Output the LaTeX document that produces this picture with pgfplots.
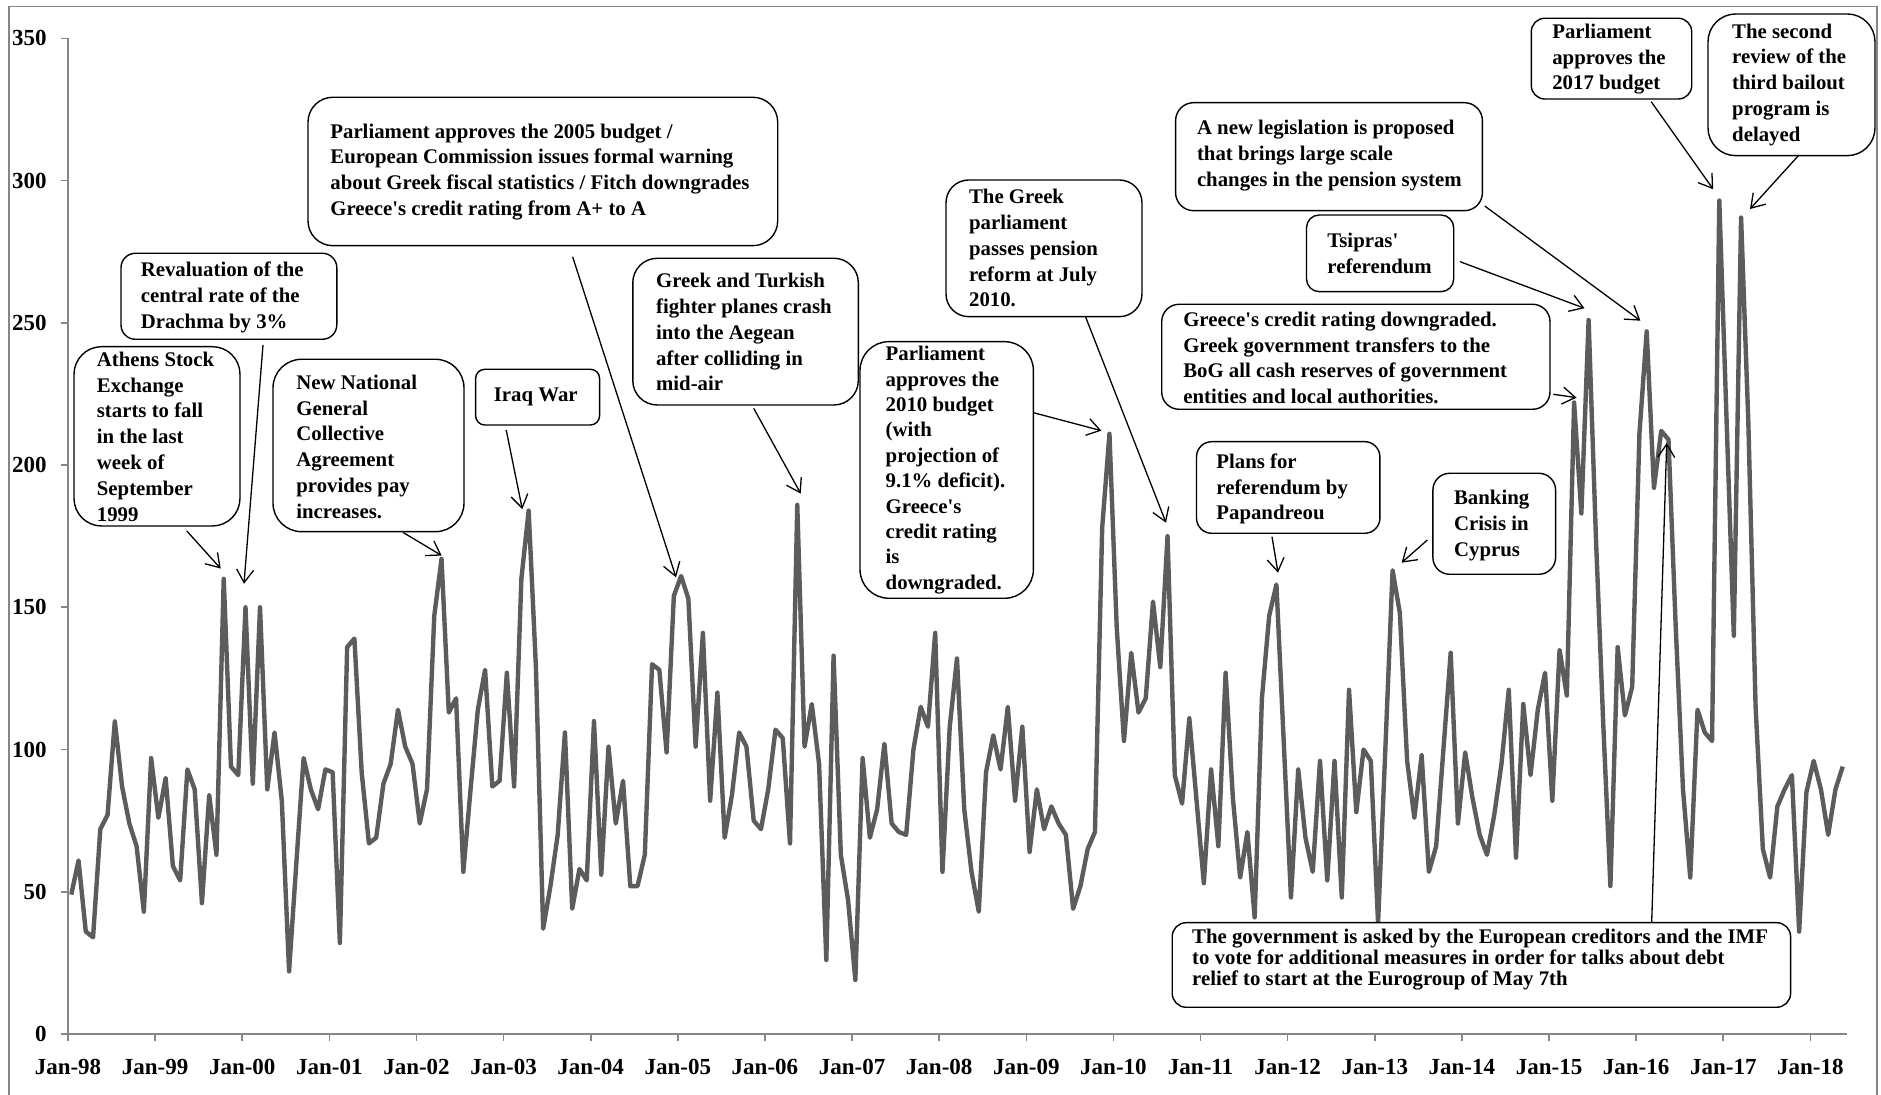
\documentclass[border=0pt]{standalone}
\usepackage{fontspec}
\setmainfont{Liberation Serif}
\usepackage{pgfplots}
\usepackage{pgfplotstable}
\pgfplotsset{compat=1.18}
\usetikzlibrary{arrows.meta}
\definecolor{linegray}{RGB}{92,92,92}
\definecolor{axisgray}{RGB}{134,134,134}
\newcommand{\bfont}{\fontsize{10.4}{12.9}\selectfont\bfseries}
\pgfplotstableread{
v
49
61
36
34
72
77
110
87
74
66
43
97
76
90
59
54
93
86
46
84
63
160
94
91
150
88
150
86
106
82
22
60
97
86
79
93
92
32
136
139
92
67
69
88
95
114
101
95
74
86
147
167
113
118
57
86
114
128
87
89
127
87
160
184
129
37
52
70
106
44
58
54
110
56
101
74
89
52
52
63
130
128
99
154
161
153
101
141
82
120
69
84
106
101
75
72
86
107
104
67
186
101
116
95
26
133
63
47
19
97
69
79
102
74
71
70
100
115
108
141
57
108
132
79
57
43
92
105
93
115
82
108
64
86
72
80
74
70
44
52
65
71
178
211
143
103
134
113
118
152
129
175
91
81
111
82
53
93
66
127
83
55
71
41
118
147
158
103
48
93
69
57
96
54
96
48
121
78
100
96
39
100
163
148
96
76
98
57
66
100
134
74
99
83
70
63
77
95
121
62
116
91
114
127
82
135
119
222
183
251
175
110
52
136
112
122
211
247
192
212
209
143
86
55
114
106
103
293
216
140
287
215
115
65
55
80
86
91
36
85
96
86
70
86
94
}\datatable
\begin{document}
\begin{tikzpicture}
\path[use as bounding box] (0,0) rectangle (940.5pt,547.5pt);
\draw[axisgray, line width=0.6pt] (4.5pt,-2pt) -- (4.5pt,544.15pt) -- (938.5pt,544.15pt) -- (938.5pt,-2pt);
\begin{axis}[
  at={(34pt,30.5pt)}, anchor=south west,
  width=889.35pt, height=497.8pt, scale only axis,
  xmin=0, xmax=245, ymin=0, ymax=350,
  axis lines*=left,
  axis line style={draw=axisgray, line width=0.8pt},
  tick style={draw=axisgray, line width=0.8pt},
  tick align=outside, major tick length=3.5pt,
  xtick={0,12,...,240},
  xticklabels={Jan-98,Jan-99,Jan-00,Jan-01,Jan-02,Jan-03,Jan-04,Jan-05,Jan-06,Jan-07,Jan-08,Jan-09,Jan-10,Jan-11,Jan-12,Jan-13,Jan-14,Jan-15,Jan-16,Jan-17,Jan-18},
  ytick={0,50,...,350},
  /pgf/number format/assume math mode=true,
  ticklabel style={font=\fontsize{11.5}{12}\selectfont\bfseries},
  xticklabel style={anchor=north, inner sep=0pt, yshift=-9pt},
  yticklabel style={anchor=east, inner sep=0pt, xshift=-7pt},
  clip=false,
]
\addplot[linegray, line width=2.2pt, line join=round, mark=none] table[x expr=\coordindex+0.45, y=v] {\datatable};
\end{axis}
\begin{scope}[shift={(0pt,547.5pt)}, x=0.5pt, y=-0.5pt]
\tikzset{bx/.style={draw=black, line width=0.7pt, fill=white},
         tx/.style={anchor=west, align=left, inner sep=0pt, font=\bfont},
         ar/.style={line width=0.65pt, -{Straight Barb[length=6.5pt,width=8.5pt]}}}
% boxes
\draw[bx, rounded corners=13.8pt] (74,346.7) rectangle (240,526);
\node[tx] at (96.5,436.7) {Athens Stock\\Exchange\\starts to fall\\in the last\\week of\\September\\1999};
\draw[bx, rounded corners=7.2pt] (121,253.3) rectangle (336.8,339.3);
\node[tx] at (140.4,297.5) {Revaluation of the\\central rate of the\\Drachma by 3\%};
\draw[bx, rounded corners=14.3pt] (273,359.3) rectangle (464,531.7);
\node[tx] at (296,446.7) {New National\\General\\Collective\\Agreement\\provides pay\\increases.};
\draw[bx, rounded corners=4.6pt] (475.6,369.3) rectangle (599.6,425);
\node[tx] at (493.5,397.2) {Iraq War};
\draw[bx, rounded corners=12.4pt] (308,97.3) rectangle (777.7,245.7);
\node[tx] at (330,172) {Parliament approves the 2005 budget /\\European Commission issues formal warning\\about Greek fiscal statistics / Fitch downgrades\\Greece\textquotesingle s credit rating from A+ to A};
\draw[bx, rounded corners=12.2pt] (632.8,258.3) rectangle (858.3,405);
\node[tx] at (655.7,332.3) {Greek and Turkish\\fighter planes crash\\into the Aegean\\after colliding in\\mid-air};
\draw[bx, rounded corners=14.4pt] (860,341.7) rectangle (1033.4,598.3);
\node[tx, font=\fontsize{10.4}{12.7}\selectfont\bfseries] at (885.3,470) {Parliament\\approves the\\2010 budget\\(with\\projection of\\9.1\% deficit).\\Greece\textquotesingle s\\credit rating\\is\\downgraded.};
\draw[bx, rounded corners=11.4pt] (946,180) rectangle (1142,316.7);
\node[tx] at (968.7,248.3) {The Greek\\parliament\\passes pension\\reform at July\\2010.};
\draw[bx, rounded corners=7.6pt] (1196.5,441.7) rectangle (1379.9,533.3);
\node[tx] at (1216,489) {Plans for\\referendum by\\Papandreou};
\draw[bx, rounded corners=8.4pt] (1432.9,473.3) rectangle (1555.6,574.3);
\node[tx] at (1453.7,525.3) {Banking\\Crisis in\\Cyprus};
\draw[bx, rounded corners=8.7pt] (1161.7,304.3) rectangle (1550,409.3);
\node[tx] at (1182.9,358) {Greece\textquotesingle s credit rating downgraded.\\Greek government transfers to the\\BoG all cash reserves of government\\entities and local authorities.};
\draw[bx, rounded corners=6.4pt] (1306.5,215) rectangle (1453.7,291.7);
\node[tx] at (1327,253.3) {Tsipras\textquotesingle\\referendum};
\draw[bx, rounded corners=9pt] (1175.6,102.7) rectangle (1482.4,210.7);
\node[tx] at (1196.6,155.7) {A new legislation is proposed\\that brings large scale\\changes in the pension system};
\draw[bx, rounded corners=6.7pt] (1531.3,18.3) rectangle (1691.7,99);
\node[tx] at (1551.9,59.2) {Parliament\\approves the\\2017 budget};
\draw[bx, rounded corners=13.9pt] (1708,14) rectangle (1875,155.7);
\node[tx] at (1731.8,84.7) {The second\\review of the\\third bailout\\program is\\delayed};
\draw[bx, rounded corners=7pt] (1172.2,922.7) rectangle (1790.6,1007.3);
\node[tx, font=\fontsize{10.4}{10.6}\selectfont\bfseries] at (1191.8,959.5) {The government is asked by the European creditors and the IMF\\to vote for additional measures in order for talks about debt\\relief to start at the Eurogroup of May 7th};
% arrows
\draw[ar] (186.7,530.9) -- (220.7,568.6);
\draw[ar] (263,345) -- (244,583.8);
\draw[ar] (403.3,532.6) -- (441.7,555.6);
\draw[ar] (506.2,430) -- (522.3,509.2);
\draw[ar] (572.6,256.7) -- (676,577.3);
\draw[ar] (753.7,408.3) -- (800.7,493.6);
\draw[ar] (1033.4,412.7) -- (1101.4,430.7);
\draw[ar] (1085.5,316.7) -- (1166,522.7);
\draw[ar] (1272,536.7) -- (1278,572.7);
\draw[ar] (1427.4,540) -- (1401.6,562.7);
\draw[ar] (1553.3,394.3) -- (1576.6,397.7);
\draw[ar] (1460,261.7) -- (1584.5,308.3);
\draw[ar] (1484.7,206) -- (1640.4,320.7);
\draw[ar] (1651.2,101.7) -- (1713.2,189.3);
\draw[ar] (1799,155) -- (1750,209);
\draw[ar] (1651.7,921.9) -- (1666.7,443.1);
\end{scope}
\end{tikzpicture}
\end{document}
